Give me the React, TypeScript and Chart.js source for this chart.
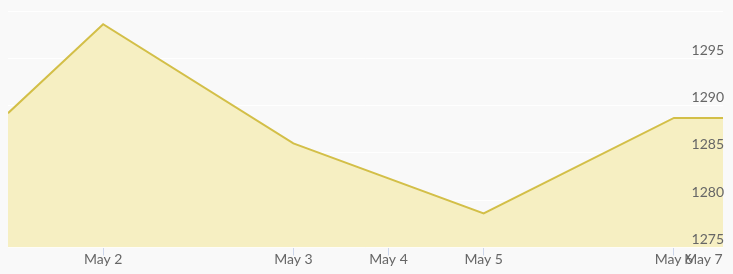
import React, { useEffect, useRef } from "react";
import { Chart, registerables } from "chart.js";

Chart.register(...registerables);

// Ordinal positions of the data points (May 2 = 1)
const pointPositions = [0, 1, 3, 5, 7, 7.516];
const prices = [1289.2, 1298.6, 1286.0, 1278.6, 1288.7, 1288.7];

const xTickPositions = [1, 3, 4, 5, 7, 7.31];
const xTickLabels = ["May 2", "May 3", "May 4", "May 5", "May 6", "May 7"];

const yTicks = [1275, 1280, 1285, 1290, 1295, 1300];
const yTickLabels = ["1275", "1280", "1285", "1290", "1295", ""];

const FONT = "Lato, 'Open Sans', sans-serif";

export default function App() {
  const ref = useRef<HTMLCanvasElement | null>(null);

  useEffect(() => {
    document.body.style.margin = "0";
    document.body.style.background = "#f9f9f9";
    const canvas = ref.current;
    if (!canvas) return;
    const chart = new Chart(canvas, {
      type: "line",
      data: {
        datasets: [
          {
            data: pointPositions.map((x, i) => ({ x, y: prices[i] })),
            borderColor: "#d3bf48",
            backgroundColor: "#f6efc2",
            borderWidth: 2,
            fill: "start",
            pointRadius: 0,
            tension: 0,
          },
        ],
      },
      options: {
        responsive: false,
        animation: false,
        layout: { padding: { left: 8, right: 8, top: 11, bottom: 0 } },
        plugins: { legend: { display: false }, tooltip: { enabled: false } },
        scales: {
          x: {
            type: "linear",
            min: 0,
            max: 7.516,
            afterBuildTicks: (s: any) => {
              s.ticks = xTickPositions.map((v) => ({ value: v }));
            },
            afterFit: (s: any) => {
              s.height = 26.5;
            },
            grid: {
              display: true,
              drawOnChartArea: false,
              drawTicks: true,
              tickLength: 8,
              tickColor: (c: any) =>
                c.index === xTickPositions.length - 1 ? "rgba(0,0,0,0)" : "#ccd6eb",
            },
            border: { display: false },
            ticks: {
              autoSkip: false,
              maxRotation: 0,
              padding: -4,
              color: "#666666",
              font: { family: FONT, size: 14 },
              callback: (_v: any, i: number) => xTickLabels[i],
            },
          },
          y: {
            type: "linear",
            position: "right",
            min: 1275,
            max: 1300,
            afterBuildTicks: (s: any) => {
              s.ticks = yTicks.map((v) => ({ value: v }));
            },
            grid: { color: "#ffffff", lineWidth: 1, drawTicks: false },
            border: { display: false },
            ticks: {
              z: 1,
              mirror: true,
              padding: 1,
              labelOffset: -8,
              color: "#666666",
              font: { family: FONT, size: 14 },
              callback: (_v: any, i: number) => yTickLabels[i],
            },
          },
        },
      },
    });
    return () => chart.destroy();
  }, []);

  return <canvas ref={ref} width={733} height={274} style={{ display: "block" }} />;
}
